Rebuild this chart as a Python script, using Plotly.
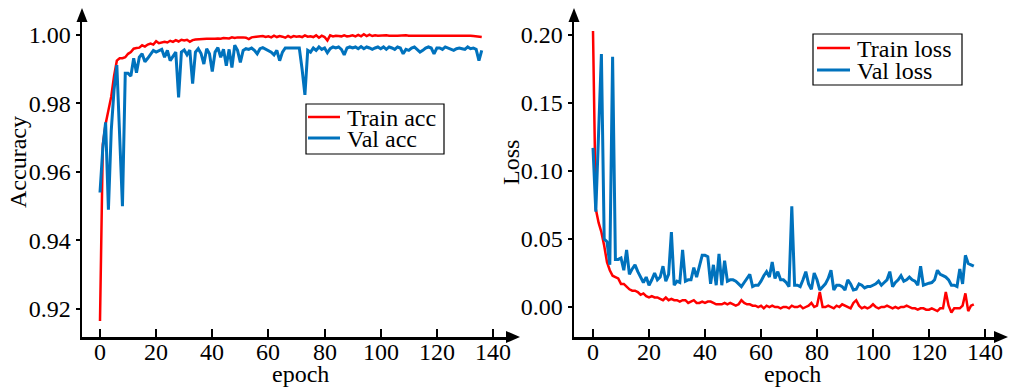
import plotly.graph_objects as go

W, H = 1009, 387

epochs = list(range(137))

train_acc = [
    0.9165, 0.968, 0.974, 0.978, 0.982, 0.988, 0.9925, 0.9932, 0.9932, 0.9935,
    0.9945, 0.9950, 0.9960, 0.9962, 0.9963, 0.9970, 0.9966, 0.9972, 0.9975, 0.9972,
    0.9982, 0.9976, 0.9977, 0.9980, 0.9978, 0.9983, 0.9980, 0.9985, 0.9981, 0.9986,
    0.9984, 0.9986, 0.9980, 0.9985, 0.9987, 0.9988, 0.9988, 0.9988, 0.9989, 0.9989,
    0.9988, 0.9989, 0.9990, 0.9989, 0.9991, 0.9991, 0.9990, 0.9993, 0.9991, 0.9993,
    0.9994, 0.9993, 0.9992, 0.9988, 0.9993, 0.9994, 0.9995, 0.9994, 0.9997, 0.9994,
    0.9996, 0.9993, 0.9998, 0.9994, 0.9997, 0.9995, 0.9992, 0.9997, 0.9993, 0.9997,
    0.9995, 0.9996, 0.9994, 0.9999, 0.9995, 0.9996, 0.9994, 0.9999, 0.9992, 0.9998,
    0.9994, 0.9984, 0.9999, 0.9996, 0.9998, 0.9997, 0.9996, 0.9999, 0.9996, 0.9997,
    0.9999, 0.9996, 1.0000, 0.9996, 1.0002, 0.9997, 1.0001, 0.9997, 0.9999, 0.9998,
    0.9999, 1.0000, 0.9999, 0.9998, 0.9999, 0.9998, 0.9998, 0.9999, 0.9998, 0.9999,
    0.9998, 0.9998, 0.9999, 0.9998, 0.9998, 0.9999, 0.9998, 0.9998, 0.9999, 0.9998,
    0.9999, 0.9998, 0.9998, 0.9999, 0.9998, 0.9999, 1.0000, 0.9999, 0.9999, 1.0000,
    0.9999, 0.9998, 0.9998, 0.9997, 0.9996, 0.9995, 0.9994,
]

val_acc = [
    0.954, 0.967, 0.9745, 0.949, 0.972, 0.984, 0.9912, 0.972, 0.950, 0.9888,
    0.9888, 0.9880, 0.9932, 0.9890, 0.9935, 0.9945, 0.9922, 0.9932, 0.9945, 0.9955,
    0.9950, 0.9955, 0.9958, 0.9935, 0.9955, 0.9925, 0.9938, 0.9950, 0.9818, 0.9950,
    0.9956, 0.9942, 0.9956, 0.9858, 0.9950, 0.9960, 0.9946, 0.9915, 0.9960, 0.9945,
    0.9893, 0.9950, 0.9963, 0.9935, 0.9958, 0.9910, 0.9958, 0.9905, 0.9970, 0.9955,
    0.9920, 0.9955, 0.9960, 0.9958, 0.9962, 0.9955, 0.9945, 0.9960, 0.9963, 0.9958,
    0.9955, 0.9950, 0.9942, 0.9955, 0.9925, 0.9950, 0.9962, 0.9962, 0.9962, 0.9962,
    0.9962, 0.9962, 0.9900, 0.9825, 0.9955, 0.9950, 0.9962, 0.9955, 0.9965, 0.9958,
    0.9962, 0.9948, 0.9960, 0.9965, 0.9962, 0.9965, 0.9958, 0.9942, 0.9962, 0.9965,
    0.9962, 0.9965, 0.9960, 0.9966, 0.9960, 0.9965, 0.9962, 0.9958, 0.9962, 0.9965,
    0.9960, 0.9965, 0.9958, 0.9965, 0.9962, 0.9958, 0.9965, 0.9962, 0.9945, 0.9958,
    0.9955, 0.9962, 0.9965, 0.9958, 0.9950, 0.9955, 0.9962, 0.9965, 0.9962, 0.9945,
    0.9962, 0.9962, 0.9958, 0.9965, 0.9962, 0.9958, 0.9955, 0.9960, 0.9962, 0.9960,
    0.9958, 0.9965, 0.9960, 0.9962, 0.9958, 0.9925, 0.9955,
]

train_loss = [
    0.203, 0.072, 0.062, 0.055, 0.045, 0.033, 0.027, 0.023, 0.022, 0.021,
    0.017, 0.017, 0.015, 0.013, 0.012, 0.012, 0.011, 0.009, 0.010, 0.008,
    0.007, 0.008, 0.007, 0.007, 0.006, 0.005, 0.007, 0.005, 0.006, 0.005,
    0.005, 0.004, 0.005, 0.005, 0.003, 0.004, 0.005, 0.003, 0.003, 0.004,
    0.003, 0.004, 0.004, 0.003, 0.002, 0.002, 0.002, 0.003, 0.002, 0.003,
    0.002, 0.001, 0.002, 0.005, 0.003, 0.002, 0.002, 0.001, 0.001, 0.000,
    0.001, -0.001, 0.001, 0.000, 0.001, 0.000, 0.000, -0.001, 0.000, 0.000,
    -0.001, 0.001, 0.000, 0.000, 0.001, -0.001, 0.000, 0.001, 0.003, 0.000,
    0.001, 0.011, 0.000, 0.000, 0.001, 0.000, -0.001, 0.001, 0.000, 0.002,
    0.001, 0.000, -0.001, 0.003, 0.005, 0.001, -0.001, 0.000, -0.001, 0.000,
    0.002, 0.000, -0.001, 0.000, 0.000, 0.001, 0.000, -0.001, 0.000, -0.001,
    0.000, 0.000, 0.001, 0.000, -0.001, -0.001, -0.002, -0.001, -0.001, -0.002,
    -0.002, -0.001, -0.002, -0.003, -0.001, -0.001, 0.011, 0.001, -0.004, -0.001,
    -0.001, -0.001, 0.001, 0.010, -0.003, 0.001, 0.002,
]

val_loss = [
    0.117, 0.070, 0.128, 0.186, 0.050, 0.048, 0.031, 0.184, 0.035, 0.035,
    0.036, 0.027, 0.042, 0.024, 0.028, 0.031, 0.026, 0.022, 0.018, 0.022,
    0.016, 0.020, 0.025, 0.020, 0.022, 0.030, 0.019, 0.024, 0.055, 0.016,
    0.019, 0.018, 0.042, 0.019, 0.020, 0.020, 0.029, 0.022, 0.030, 0.038,
    0.038, 0.037, 0.017, 0.031, 0.016, 0.039, 0.016, 0.034, 0.019, 0.020,
    0.020, 0.019, 0.017, 0.015, 0.018, 0.021, 0.024, 0.015, 0.016, 0.016,
    0.019, 0.023, 0.026, 0.022, 0.033, 0.021, 0.026, 0.020, 0.020, 0.018,
    0.015, 0.074, 0.016, 0.016, 0.015, 0.020, 0.026, 0.017, 0.013, 0.025,
    0.020, 0.0125, 0.015, 0.017, 0.021, 0.027, 0.0125, 0.016, 0.016, 0.015,
    0.0125, 0.020, 0.017, 0.0125, 0.013, 0.017, 0.016, 0.014, 0.015, 0.015,
    0.016, 0.017, 0.019, 0.016, 0.018, 0.020, 0.026, 0.015, 0.018, 0.020,
    0.023, 0.019, 0.020, 0.022, 0.020, 0.019, 0.016, 0.030, 0.016, 0.017,
    0.0175, 0.018, 0.020, 0.027, 0.024, 0.023, 0.022, 0.020, 0.016, 0.016,
    0.015, 0.028, 0.017, 0.038, 0.032, 0.031, 0.030,
]

acc_ticks = [0.92, 0.94, 0.96, 0.98, 1.00]
loss_ticks = [0.00, 0.05, 0.10, 0.15, 0.20]
epoch_ticks = [0, 20, 40, 60, 80, 100, 120, 140]

RED = "#FF0000"
BLUE = "#0072BD"
FONT = "Liberation Serif"


def px(x):
    return x / W


def py(y):
    return 1 - y / H


fig = go.Figure()
fig.add_trace(go.Scatter(x=epochs, y=train_acc, mode="lines", line=dict(color=RED, width=2.5),
                         xaxis="x", yaxis="y", showlegend=False, hoverinfo="skip"))
fig.add_trace(go.Scatter(x=epochs, y=val_acc, mode="lines", line=dict(color=BLUE, width=3),
                         xaxis="x", yaxis="y", showlegend=False, hoverinfo="skip"))
fig.add_trace(go.Scatter(x=epochs, y=train_loss, mode="lines", line=dict(color=RED, width=2.5),
                         xaxis="x2", yaxis="y2", showlegend=False, hoverinfo="skip"))
fig.add_trace(go.Scatter(x=epochs, y=val_loss, mode="lines", line=dict(color=BLUE, width=3),
                         xaxis="x2", yaxis="y2", showlegend=False, hoverinfo="skip"))

ydom = [py(337), py(22)]
tickfont = dict(family=FONT, size=24, color="black")
common_x = dict(showline=True, linecolor="black", linewidth=2.5, ticks="inside", ticklen=8,
                tickwidth=2, tickcolor="black", showgrid=False, zeroline=False, automargin=False,
                tickvals=epoch_ticks, showticklabels=False)
common_y = dict(showline=True, linecolor="black", linewidth=2.5, ticks="outside", ticklen=4,
                tickwidth=2, tickcolor="black", showgrid=False, zeroline=False, automargin=False,
                tickformat=".2f", tickfont=tickfont)

fig.update_layout(
    template="none",
    width=W, height=H,
    margin=dict(l=0, r=0, t=0, b=0, autoexpand=False),
    paper_bgcolor="white", plot_bgcolor="white",
    font=dict(family=FONT, size=24, color="black"),
    xaxis=dict(domain=[px(82), px(507)], range=[-18 / 2.807, 407 / 2.807], anchor="y", **common_x),
    yaxis=dict(domain=ydom, range=[0.91182, 1.00379], anchor="x", tickvals=acc_ticks, **common_y),
    xaxis2=dict(domain=[px(574), px(995)], range=[-19 / 2.8, 402 / 2.8], anchor="y2", **common_x),
    yaxis2=dict(domain=ydom, range=[-0.02206, 0.20956], anchor="x2", tickvals=loss_ticks, **common_y),
)

shapes = []
# arrow heads
for (tip, b1, b2) in [
    ((82, 8), (76.5, 22), (87.5, 22)),
    ((520, 337), (506, 331), (506, 343)),
    ((574, 8), (568.5, 22), (579.5, 22)),
    ((1008, 337), (994, 331), (994, 343)),
]:
    path = f"M {px(tip[0])},{py(tip[1])} L {px(b1[0])},{py(b1[1])} L {px(b2[0])},{py(b2[1])} Z"
    shapes.append(dict(type="path", xref="paper", yref="paper", path=path,
                       fillcolor="black", line=dict(color="black", width=0)))

annotations = []

# x tick labels (placed through the x axes' scales)
for xref in ("x", "x2"):
    for v in epoch_ticks:
        annotations.append(dict(xref=xref, yref="paper", x=v, y=py(352), text=str(v),
                                showarrow=False, xanchor="center", yanchor="middle",
                                font=tickfont))


def legend_box(x0, y0, x1, y1, lx0, lx1, rows):
    shapes.append(dict(type="rect", xref="paper", yref="paper", x0=px(x0), x1=px(x1),
                       y0=py(y1), y1=py(y0), line=dict(color="black", width=1.2),
                       fillcolor="white", layer="above"))
    for yy, col, w, label in rows:
        shapes.append(dict(type="line", xref="paper", yref="paper", x0=px(lx0), x1=px(lx1),
                           y0=py(yy), y1=py(yy), line=dict(color=col, width=w), layer="above"))
        annotations.append(dict(xref="paper", yref="paper", x=px(lx1 + 5), y=py(yy + 1),
                                text=label, showarrow=False, xanchor="left", yanchor="middle",
                                font=dict(family=FONT, size=24, color="black")))


legend_box(306, 104, 444, 154, 308, 340,
           [(117, RED, 2.5, "Train acc"), (138, BLUE, 3, "Val acc")])
legend_box(813, 34, 962, 85, 817, 850,
           [(48, RED, 2.5, "Train loss"), (70, BLUE, 3, "Val loss")])

# axis titles
annotations.append(dict(xref="paper", yref="paper", x=px(18), y=py(162), text="Accuracy",
                        textangle=-90, showarrow=False, xanchor="center", yanchor="middle",
                        font=dict(family=FONT, size=24, color="black")))
annotations.append(dict(xref="paper", yref="paper", x=px(511), y=py(162), text="Loss",
                        textangle=-90, showarrow=False, xanchor="center", yanchor="middle",
                        font=dict(family=FONT, size=24, color="black")))
annotations.append(dict(xref="paper", yref="paper", x=px(300), y=py(374), text="epoch",
                        showarrow=False, xanchor="center", yanchor="middle",
                        font=dict(family=FONT, size=24, color="black")))
annotations.append(dict(xref="paper", yref="paper", x=px(792), y=py(374), text="epoch",
                        showarrow=False, xanchor="center", yanchor="middle",
                        font=dict(family=FONT, size=24, color="black")))

fig.update_layout(shapes=shapes, annotations=annotations)

fig.write_html(
    "out.html",
    config={"displayModeBar": False, "staticPlot": True},
    post_script="document.body.style.margin='0';document.body.style.padding='0';"
                "document.documentElement.style.margin='0';document.body.style.overflow='hidden';",
)
